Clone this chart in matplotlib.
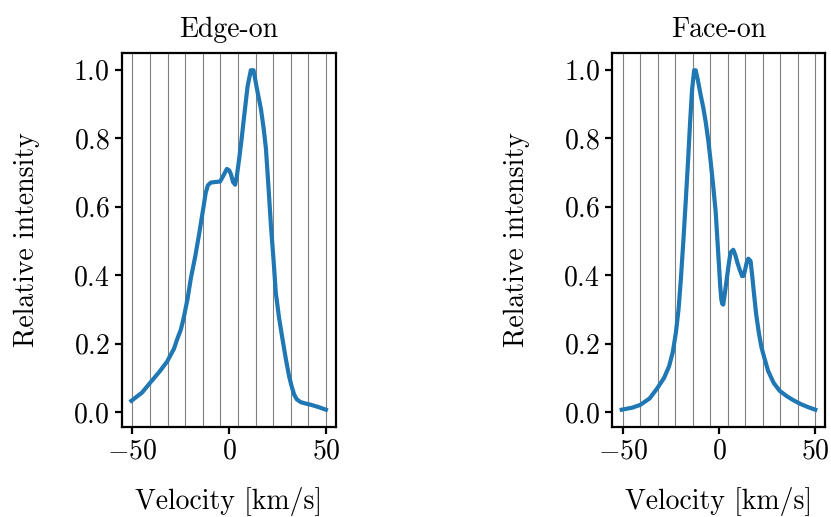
import numpy as np
import matplotlib.pyplot as plt

plt.rcParams['font.family'] = 'serif'
plt.rcParams['font.serif'] = ['cmr10']
plt.rcParams['mathtext.fontset'] = 'cm'
plt.rcParams['axes.formatter.use_mathtext'] = True
plt.rcParams['font.size'] = 10

# velocity channels (grey vertical lines)
channels = np.linspace(-50, 50, 12)

# edge-on profile
v_edge = [-50.5, -45, -40.9, -36, -32, -28.5, -26.7, -25, -23.6, -21.5, -19.8, -17.5, -15.5,
          -13.5, -12.1, -11, -9.5, -7, -4.7, -3, -1.2, 0, 0.9, 2, 3.1, 4, 5.2, 6.5, 7.8, 9.5,
          11.2, 12.6, 14.5, 16.4, 17.8, 19, 20.3, 21.6, 23, 24.1, 25.8, 27.6, 29.3, 31, 32.3,
          33.6, 35, 37, 39.5, 42.2, 46, 50]
i_edge = [0.033, 0.057, 0.085, 0.118, 0.148, 0.185, 0.215, 0.240, 0.272, 0.330, 0.390, 0.455, 0.520,
          0.590, 0.640, 0.662, 0.670, 0.672, 0.673, 0.690, 0.710, 0.706, 0.695, 0.672, 0.664, 0.690, 0.740, 0.800, 0.866, 0.950,
          0.998, 0.998, 0.940, 0.886, 0.830, 0.770, 0.660, 0.544, 0.440, 0.349, 0.275, 0.212, 0.155, 0.104, 0.075,
          0.051, 0.037, 0.029, 0.025, 0.0215, 0.015, 0.007]

# face-on profile
v_face = [-50.5, -45, -40.9, -36, -32, -28.5, -25.9, -24, -22.4, -21, -19.8, -18.5, -17.2,
          -16, -15, -14, -12.9, -12.1, -11, -9.5, -8.2, -6.9, -5.5, -4.3, -3, -1.7, -0.8, 0, 0.6,
          1.2, 1.7, 2.2, 3, 4, 5, 6, 7.4, 8.5, 9.5, 10.8, 12, 12.8, 13.4, 14.3, 15.2, 16.4, 17.2,
          18.1, 19.3, 20.7, 22, 23.3, 25.5, 28.4, 31.5, 35.3, 38.5, 42.2, 46, 50]
i_face = [0.007, 0.013, 0.021, 0.040, 0.070, 0.100, 0.134, 0.175, 0.231, 0.300, 0.388, 0.500, 0.622,
          0.740, 0.847, 0.940, 0.998, 0.998, 0.970, 0.925, 0.890, 0.847, 0.790, 0.730, 0.660, 0.583, 0.500, 0.427, 0.370,
          0.329, 0.316, 0.314, 0.345, 0.388, 0.430, 0.466, 0.474, 0.458, 0.437, 0.415, 0.397, 0.398, 0.412, 0.435, 0.448, 0.441, 0.400,
          0.349, 0.285, 0.231, 0.190, 0.163, 0.120, 0.085, 0.062, 0.046, 0.035, 0.024, 0.015, 0.007]

fig = plt.figure(figsize=(4.155, 2.585), dpi=200)
ax1 = fig.add_axes([0.1464, 0.1747, 0.2575, 0.7222])
ax2 = fig.add_axes([0.7365, 0.1747, 0.2563, 0.7222])

for ax, v, inten, title in [(ax1, v_edge, i_edge, "Edge-on"), (ax2, v_face, i_face, "Face-on")]:
    for c in channels:
        ax.axvline(c, color='grey', lw=0.4, zorder=0)
    ax.plot(v, inten, color='C0')
    ax.set_title(title, fontsize=10)
    ax.set_xlabel("Velocity [km/s]", fontsize=10, labelpad=8)
    ax.set_ylabel("Relative intensity", fontsize=10, labelpad=12)
    ax.set_xticks([-50, 0, 50])
    ax.set_yticks([0.0, 0.2, 0.4, 0.6, 0.8, 1.0])
    ax.tick_params(labelsize=10, length=2.5, pad=1.8)

fig.savefig("out.png", dpi=200)
